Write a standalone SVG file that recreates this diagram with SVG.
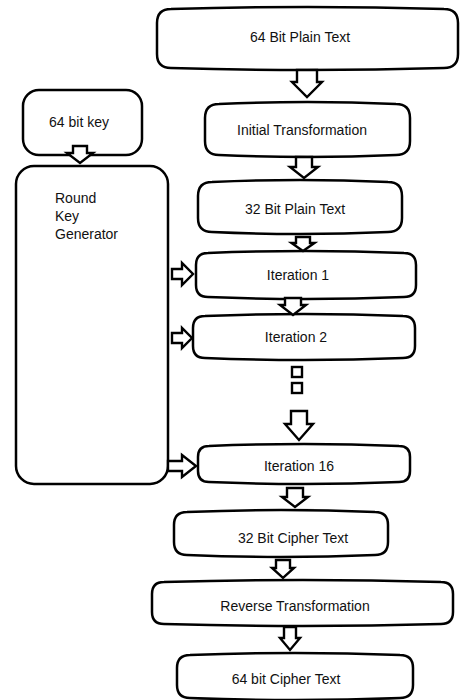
<svg xmlns="http://www.w3.org/2000/svg" width="460" height="700" viewBox="0 0 460 700">
<style>
.box{fill:#fff;stroke:#000;stroke-width:2.5;stroke-linejoin:round}
.arr{fill:#fff;stroke:#000;stroke-width:2.4;stroke-linejoin:miter}
.t{font-family:"Liberation Sans",Arial,sans-serif;font-size:14px;fill:#111;text-anchor:middle}
.tl{font-family:"Liberation Sans",Arial,sans-serif;font-size:14px;fill:#111;text-anchor:start}
</style>
<rect width="460" height="700" fill="#fff"/>
<g id="n-plain64"><path class="box" d="M157,23 Q157,9 171,9 Q307.5,5 444,9 Q458,9 458,23 L458,54 Q458,68 444,68 Q307.5,72 171,68 Q157,68 157,54 Z"/><text class="t" x="300" y="42">64 Bit Plain Text</text></g>
<g id="n-initial"><path class="box" d="M205,118 Q205,104 219,104 Q307.5,100 396,104 Q410,104 410,118 L410,141 Q410,155 396,155 Q307.5,159 219,155 Q205,155 205,141 Z"/><text class="t" x="302" y="135">Initial Transformation</text></g>
<g id="n-plain32"><path class="box" d="M198,196 Q198,182 212,182 Q300,178 388,182 Q402,182 402,196 L402,218 Q402,232 388,232 Q300,236 212,232 Q198,232 198,218 Z"/><text class="t" x="295" y="214">32 Bit Plain Text</text></g>
<g id="n-iter1"><path class="box" d="M196,265 Q196,253 208,253 Q306,249 404,253 Q416,253 416,265 L416,285 Q416,297 404,297 Q306,301 208,297 Q196,297 196,285 Z"/><text class="t" x="298" y="280">Iteration 1</text></g>
<g id="n-iter2"><path class="box" d="M193,328 Q193,316 205,316 Q304,312 403,316 Q415,316 415,328 L415,346 Q415,358 403,358 Q304,362 205,358 Q193,358 193,346 Z"/><text class="t" x="296" y="342">Iteration 2</text></g>
<g id="n-iter16"><path class="box" d="M198,457 Q198,446 209,446 Q304,442 399,446 Q410,446 410,457 L410,471 Q410,482 399,482 Q304,486 209,482 Q198,482 198,471 Z"/><text class="t" x="299" y="471">Iteration 16</text></g>
<g id="n-cipher32"><path class="box" d="M174,525 Q174,512 187,512 Q281,508 375,512 Q388,512 388,525 L388,542 Q388,555 375,555 Q281,559 187,555 Q174,555 174,542 Z"/><text class="t" x="293" y="543">32 Bit Cipher Text</text></g>
<g id="n-reverse"><path class="box" d="M152,594 Q152,582 164,582 Q302.5,578 441,582 Q453,582 453,594 L453,612 Q453,624 441,624 Q302.5,628 164,624 Q152,624 152,612 Z"/><text class="t" x="295" y="611">Reverse Transformation</text></g>
<g id="n-cipher64"><path class="box" d="M177,668 Q177,655 190,655 Q295,651 400,655 Q413,655 413,668 L413,685 Q413,698 400,698 Q295,702 190,698 Q177,698 177,685 Z"/><text class="t" x="286" y="684">64 bit Cipher Text</text></g>
<g id="n-key"><rect class="box" x="23" y="90" width="119" height="65" rx="16"/><text class="t" x="79" y="127">64 bit key</text></g>
<g id="n-rkg"><rect class="box" x="16" y="166" width="152" height="318" rx="18"/><text class="tl" x="55" y="203">Round</text><text class="tl" x="55" y="221">Key</text><text class="tl" x="55" y="239">Generator</text></g>
<g id="connectors">
<path class="arr" d="M297,70 H317 V82 H322 L307,97 L292,82 H297 Z"/>
<path class="arr" d="M73,146 H87 V153 H93 L80,163 L67,153 H73 Z"/>
<path class="arr" d="M296,157 H312 V167 H318 L304,178 L290,167 H296 Z"/>
<path class="arr" d="M296,237 H310 V243 H314.5 L303,251 L291.5,243 H296 Z"/>
<path class="arr" d="M285,298 H301 V305 H306 L293,315 L280,305 H285 Z"/>
<rect class="arr" x="292" y="367" width="10" height="10"/>
<rect class="arr" x="292" y="383" width="10" height="10"/>
<path class="arr" d="M291,411 H307 V424 H313 L299,440 L285,424 H291 Z"/>
<path class="arr" d="M287,488 H303 V497 H308 L295,507 L282,497 H287 Z"/>
<path class="arr" d="M276,560 H290 V568 H294 L283,578 L272,568 H276 Z"/>
<path class="arr" d="M284,627 H296 V638 H300 L290,650 L280,638 H284 Z"/>
<path class="arr" d="M172,269 H182 V263 L193,274 L182,285 V279 H172 Z"/>
<path class="arr" d="M172,333 H182 V328 L192,338 L182,348 V343 H172 Z"/>
<path class="arr" d="M168,461 H182 V455 L196,466 L182,477 V471 H168 Z"/>
</g>
</svg>
